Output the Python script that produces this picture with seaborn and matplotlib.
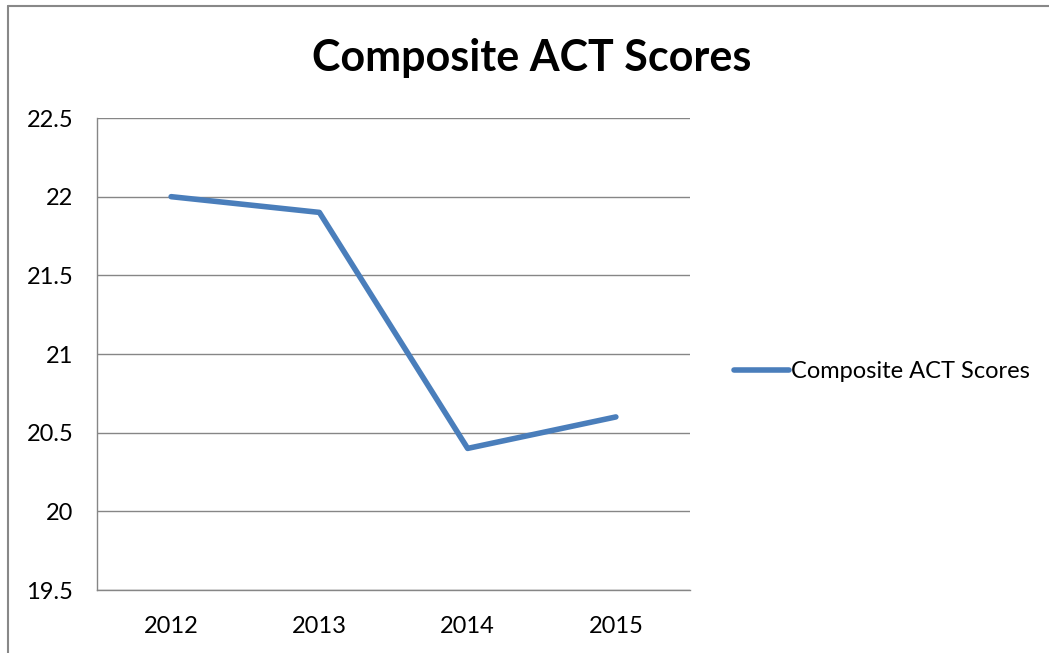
import pandas as pd
import matplotlib.pyplot as plt
import matplotlib.lines as mlines
import seaborn as sns

# 数据
years = ['2012', '2013', '2014', '2015']
scores = [22.0, 21.9, 20.4, 20.6]
y_ticks = [19.5, 20, 20.5, 21, 21.5, 22, 22.5]
y_labels = ['19.5', '20', '20.5', '21', '21.5', '22', '22.5']

df = pd.DataFrame({'pos': range(len(years)), 'score': scores})

sns.set_style('white')
plt.rcParams['font.family'] = ['Lato', 'DejaVu Sans']
plt.rcParams['text.color'] = 'black'

fig = plt.figure(figsize=(10.49, 6.53), dpi=100)
ax = fig.add_axes([97 / 1049, 1 - 590 / 653, (690 - 97) / 1049, (590 - 118) / 653])

line_color = '#4A7EBB'
grid_color = '#868686'

sns.lineplot(data=df, x='pos', y='score', ax=ax, color=line_color,
             linewidth=4, solid_capstyle='round', label='Composite ACT Scores')

ax.set_xlim(-0.5, len(years) - 0.5)
ax.set_ylim(19.5, 22.5)
ax.set_xticks(range(len(years)))
ax.set_xticklabels(years)
ax.set_xticks([i - 0.5 for i in range(len(years) + 1)], minor=True)
ax.set_yticks(y_ticks)
ax.set_yticklabels(y_labels)
ax.set_xlabel('')
ax.set_ylabel('')

ax.grid(axis='y', color=grid_color, linewidth=1)
ax.set_axisbelow(True)
for s in ['top', 'right']:
    ax.spines[s].set_visible(False)
for s in ['left', 'bottom']:
    ax.spines[s].set_color(grid_color)
    ax.spines[s].set_linewidth(1)

ax.tick_params(axis='x', which='major', length=0, labelsize=17, pad=19, labelcolor='black')
ax.tick_params(axis='x', which='minor', length=7, width=1, color=grid_color, direction='out')
ax.tick_params(axis='y', length=7, width=1, color=grid_color, direction='out',
               labelsize=17, pad=10, labelcolor='black')

ax.legend_.remove()
handle = mlines.Line2D([], [], color=line_color, linewidth=4, solid_capstyle='round')
fig.legend([handle], ['Composite ACT Scores'], loc='center left',
           bbox_to_anchor=(713 / 1049, 1 - 372 / 653), frameon=False,
           fontsize=17, handlelength=2.3, handletextpad=0.1, labelcolor='black')

fig.text(532 / 1049, 1 - 58 / 653, 'Composite ACT Scores', ha='center', va='center',
         fontsize=31, fontweight='bold', color='black')

# 外框
fig.add_artist(mlines.Line2D([8 / 1049, 8 / 1049], [0, 1 - 6 / 653], color='#888888',
                             linewidth=1.5, transform=fig.transFigure))
fig.add_artist(mlines.Line2D([8 / 1049, 1], [1 - 6 / 653, 1 - 6 / 653], color='#888888',
                             linewidth=1.5, transform=fig.transFigure))

fig.savefig('out.png', dpi=100)
